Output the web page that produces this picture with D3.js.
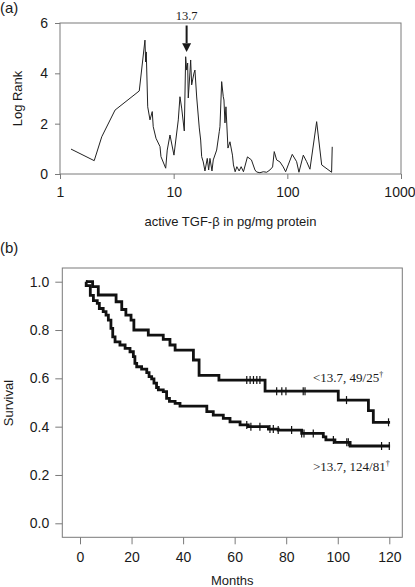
<!DOCTYPE html>
<html><head><meta charset="utf-8">
<script src="https://cdn.jsdelivr.net/npm/d3@7"></script>
<style>body{margin:0;background:#fff}svg{display:block}</style>
</head><body>
<script>
// ---------- Panel (a): log-rank statistic vs cutoff ----------
const tgfLevels = [1.25,2.00,2.33,3.05,4.98,5.59,5.67,5.74,5.91,6.19,6.48,6.61,6.99,7.58,7.73,8.51,8.78,9.28,10.06,10.98,11.36,11.76,12.40,12.75,13.01,13.28,13.44,13.91,14.11,14.40,15.09,15.39,15.94,16.80,17.28,17.63,18.21,18.85,19.75,20.32,20.86,21.73,22.30,23.89,25.18,25.54,26.44,27.32,27.70,28.27,28.84,30.04,31.28,32.90,33.57,34.74,35.97,37.68,39.24,41.12,44.58,48.34,51.9,53.7,57.4,61.4,65.8,70.3,74.2,76.7,80.5,86.1,92.1,96.6,101.8,110.5,120.7,126.5,138.2,147.9,158.1,181.1,200.5,245.2,248.3];
const logRankValues = [0.99,0.53,1.48,2.54,3.30,5.32,4.45,4.85,2.67,2.15,2.48,1.88,1.42,1.09,0.69,0.23,0.95,1.55,0.75,2.15,3.07,2.62,1.71,4.66,4.13,4.41,3.02,4.05,4.53,3.54,4.01,4.13,3.06,1.83,1.35,0.69,0.48,0.12,0.62,0.16,0.62,0.12,0.56,0.95,1.68,1.88,3.67,3.07,2.94,2.03,2.67,1.03,1.28,0.75,0.36,0.09,0.29,0.12,0.29,0.09,0.68,0.56,0.16,0.08,0.05,0.09,0.07,0.16,0.28,0.89,0.56,0.48,0.28,0.09,0.36,0.78,0.49,0.07,0.75,0.49,0.19,2.08,0.36,0.07,1.08];
const cutoffLabel = "13.7";
const arrowPosition = 13.0;
const xTicksA = [1,10,100,1000];
const yTicksA = [0,2,4,6];

// ---------- Panel (b): Kaplan-Meier survival ----------
const lowMonths = [2.3,4.9,7.1,14.0,16.2,17.8,19.8,20.9,26.5,32.3,34.9,36.9,44.0,46.2,53.9,71.8,100.2,111.9,113.8,120.3];
const lowSurv   = [1.0,0.98,0.945,0.917,0.885,0.862,0.841,0.800,0.779,0.761,0.738,0.717,0.676,0.612,0.593,0.547,0.510,0.466,0.418,0.418];
const lowCensored = [64.7,66.0,67.3,68.6,69.8,76.3,78.3,79.9,86.6,87.3,103.4,119.7];

const highMonths = [2.3,2.4,4.0,5.2,6.7,7.5,9.0,10.1,11.0,12.0,12.7,13.6,15.5,17.5,19.4,20.7,21.3,22.0,23.9,25.9,26.8,27.8,28.7,29.7,30.4,32.3,33.6,34.7,36.9,38.8,49.2,51.7,55.6,58.2,62.1,65.3,73.1,76.9,86.0,94.4,95.4,98.9,104.8,120.3];
const highSurv   = [1.0,0.984,0.943,0.922,0.910,0.889,0.876,0.862,0.841,0.807,0.772,0.751,0.738,0.724,0.710,0.690,0.662,0.648,0.638,0.624,0.607,0.598,0.580,0.562,0.552,0.545,0.517,0.505,0.496,0.485,0.462,0.448,0.434,0.420,0.407,0.400,0.390,0.386,0.372,0.358,0.345,0.335,0.320,0.320];
const highCensored = [64.7,66.3,69.8,73.7,75.0,76.9,82.1,86.0,86.9,90.5,98.3,103.5,104.1,117.0,120.0];

const xTicksB = [0,20,40,60,80,100,120];
const yTicksB = [0,0.2,0.4,0.6,0.8,1.0];
const groupLabels = ["<13.7, 49/25", ">13.7, 124/81"];

// ---------- drawing ----------
const W = 415, H = 587;
const sans = "'Liberation Sans', Arial, Helvetica, sans-serif";
const serif = "'Liberation Serif', 'Times New Roman', serif";
const axisGray = "#7a7a7a";
const ink = "#1a1a1a";

const svg = d3.select("body").append("svg").attr("width", W).attr("height", H)
  .style("font-family", sans);

function styleAxis(g) {
  g.select(".domain").remove();
  g.selectAll(".tick line").attr("stroke", axisGray).attr("stroke-width", 1);
  g.selectAll(".tick text").attr("fill", ink).style("font-size", "14px").style("font-family", sans);
}

// Panel (a)
const xA = d3.scaleLog().domain([1, 1000]).range([60, 401]);
const yA = d3.scaleLinear().domain([0, 6]).range([174, 23]);

svg.append("text").attr("x", 0).attr("y", 13).text("(a)")
  .style("font-size", "15px").attr("fill", ink);

svg.append("rect").attr("x", 60).attr("y", 23).attr("width", 341).attr("height", 151)
  .attr("fill", "none").attr("stroke", axisGray).attr("stroke-width", 1);

const gxA = svg.append("g").attr("transform", "translate(0,174)")
  .call(d3.axisBottom(xA).tickValues(xTicksA).tickFormat(d3.format("d")).tickSize(5).tickPadding(8))
  .call(styleAxis);
// keep the last label inside the picture, as in the reference
gxA.selectAll(".tick text").filter(d => d === 1000).attr("text-anchor", "end").attr("x", 14);

svg.append("g").attr("transform", "translate(60,0)")
  .call(d3.axisLeft(yA).tickValues(yTicksA).tickFormat(d3.format("d")).tickSize(5).tickPadding(7))
  .call(styleAxis);

const lineA = d3.line().x((d, i) => xA(tgfLevels[i])).y(d => yA(d));
svg.append("path").datum(logRankValues).attr("d", lineA)
  .attr("fill", "none").attr("stroke", "#222").attr("stroke-width", 1).attr("stroke-linejoin", "round");

// arrow at cutoff
const ax = xA(arrowPosition);
svg.append("line").attr("x1", ax).attr("x2", ax).attr("y1", yA(5.9)).attr("y2", yA(5.2))
  .attr("stroke", ink).attr("stroke-width", 2);
svg.append("path")
  .attr("d", `M${ax - 4.5},${yA(5.2)} L${ax + 4.5},${yA(5.2)} L${ax},${yA(4.85)} Z`)
  .attr("fill", ink);
svg.append("text").attr("x", ax).attr("y", 20).attr("text-anchor", "middle")
  .style("font-family", serif).style("font-size", "12.5px").attr("fill", ink).text(cutoffLabel);

svg.append("text").attr("transform", "translate(21.5,98.5) rotate(-90)").attr("text-anchor", "middle")
  .style("font-size", "13px").attr("fill", ink).text("Log Rank");
svg.append("text").attr("x", 230.5).attr("y", 226).attr("text-anchor", "middle")
  .style("font-size", "13px").attr("fill", ink).text("active TGF-β in pg/mg protein");

// Panel (b)
const xB = d3.scaleLinear().domain([0, 120]).range([80, 389.3]);
const yB = d3.scaleLinear().domain([0, 1]).range([523.3, 281.7]);

svg.append("text").attr("x", 0).attr("y", 253).text("(b)")
  .style("font-size", "15px").attr("fill", ink);

svg.append("rect").attr("x", 62.3).attr("y", 268).attr("width", 340).attr("height", 269.3)
  .attr("fill", "none").attr("stroke", axisGray).attr("stroke-width", 1);

svg.append("g").attr("transform", "translate(0,537.3)")
  .call(d3.axisBottom(xB).tickValues(xTicksB).tickFormat(d3.format("d")).tickSize(7).tickPadding(8))
  .call(styleAxis);
svg.append("g").attr("transform", "translate(62.3,0)")
  .call(d3.axisLeft(yB).tickValues(yTicksB).tickFormat(d3.format(".1f")).tickSize(7).tickPadding(6))
  .call(styleAxis);

const stepLine = d3.line().curve(d3.curveStepAfter).x(d => xB(d[0])).y(d => yB(d[1]));
function drawKM(months, surv, censored) {
  const pts = months.map((m, i) => [m, surv[i]]);
  svg.append("path").datum(pts).attr("d", stepLine)
    .attr("fill", "none").attr("stroke", "#111").attr("stroke-width", 2.8);
  censored.forEach(c => {
    const idx = d3.bisectRight(months, c) - 1;
    const s = surv[Math.max(0, idx)];
    svg.append("line").attr("x1", xB(c)).attr("x2", xB(c))
      .attr("y1", yB(s) - 4).attr("y2", yB(s) + 4)
      .attr("stroke", "#111").attr("stroke-width", 1.2);
  });
}
drawKM(lowMonths, lowSurv, lowCensored);
drawKM(highMonths, highSurv, highCensored);

function groupLabel(txt, x, y) {
  const t = svg.append("text").attr("x", x).attr("y", y)
    .style("font-family", serif).style("font-size", "13px").attr("fill", ink);
  t.append("tspan").text(txt);
  t.append("tspan").attr("dy", -5).style("font-size", "8px").text("†");
}
groupLabel(groupLabels[0], 313, 382);
groupLabel(groupLabels[1], 313, 471);

svg.append("text").attr("transform", "translate(12.5,403) rotate(-90)").attr("text-anchor", "middle")
  .style("font-size", "13px").attr("fill", ink).text("Survival");
svg.append("text").attr("x", 232.3).attr("y", 585).attr("text-anchor", "middle")
  .style("font-size", "13px").attr("fill", ink).text("Months");
</script>
</body></html>
